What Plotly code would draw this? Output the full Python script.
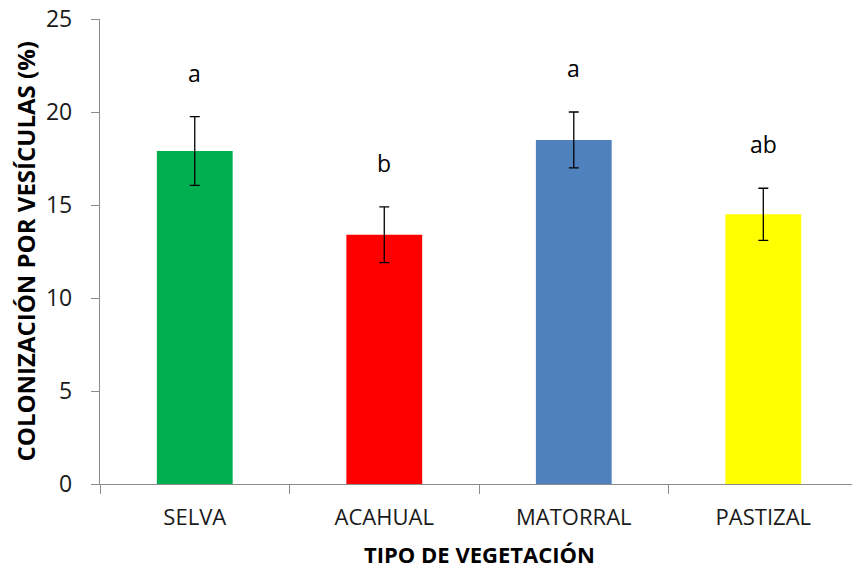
import plotly.graph_objects as go

# Vegetation types and mean vesicle colonization (%) with error
categories = ["SELVA", "ACAHUAL", "MATORRAL", "PASTIZAL"]
means = [17.9, 13.4, 18.5, 14.5]
errors = [1.85, 1.5, 1.5, 1.4]
groups = ["a", "b", "a", "ab"]
colors = ["#00B050", "#FF0000", "#4F81BD", "#FFFF00"]

FONT = "Open Sans, Liberation Sans, sans-serif"
AXIS_GRAY = "#8C8C8C"

fig = go.Figure()
fig.add_trace(go.Bar(
    x=categories,
    y=means,
    width=0.4,
    marker=dict(color=colors, line=dict(width=0)),
    error_y=dict(type="data", array=errors, visible=True,
                 color="#000000", thickness=1.3, width=5),
    showlegend=False,
))

# Significance letters above each error bar
for cat, m, e, g in zip(categories, means, errors, groups):
    fig.add_annotation(
        x=cat, y=m + e, xref="x", yref="y",
        text=g, showarrow=False,
        yanchor="middle", yshift=44,
        font=dict(family=FONT, size=23, color="#000000"),
    )

# Axis titles
fig.add_annotation(
    text="<b>COLONIZACIÓN POR VESÍCULAS (%)</b>",
    xref="paper", yref="paper", x=0, y=0.5,
    xshift=-75, xanchor="center", yanchor="middle",
    textangle=-90, showarrow=False,
    font=dict(family=FONT, size=24, color="#000000"),
)
fig.add_annotation(
    text="<b>TIPO DE VEGETACIÓN</b>",
    xref="paper", yref="paper", x=0.5 * (3.5 + 0.5) / (3.468 + 0.5), y=0,
    yshift=-70, xanchor="center", yanchor="middle",
    showarrow=False, borderpad=0,
    font=dict(family=FONT, size=22, color="#000000"),
)

fig.update_layout(
    width=852, height=571,
    margin=dict(l=100, r=0, t=19, b=87, pad=0),
    paper_bgcolor="white", plot_bgcolor="white",
    bargap=0.6,
    xaxis=dict(
        type="category",
        range=[-0.5, 3.468],
        showgrid=False, zeroline=False,
        showline=True, linecolor=AXIS_GRAY, linewidth=1.3,
        ticks="outside", tickson="boundaries", ticklen=9,
        tickcolor=AXIS_GRAY, tickwidth=1.3,
        ticklabelstandoff=13,
        tickfont=dict(family=FONT, size=22, color="#1a1a1a"),
    ),
    yaxis=dict(
        range=[0, 25], dtick=5, tick0=0,
        showgrid=False, zeroline=False,
        showline=True, linecolor=AXIS_GRAY, linewidth=1.3,
        ticks="outside", ticklen=8,
        tickcolor=AXIS_GRAY, tickwidth=1.3,
        ticklabelstandoff=14,
        tickfont=dict(family=FONT, size=23, color="#1a1a1a"),
    ),
)

fig.write_html("out.html")
